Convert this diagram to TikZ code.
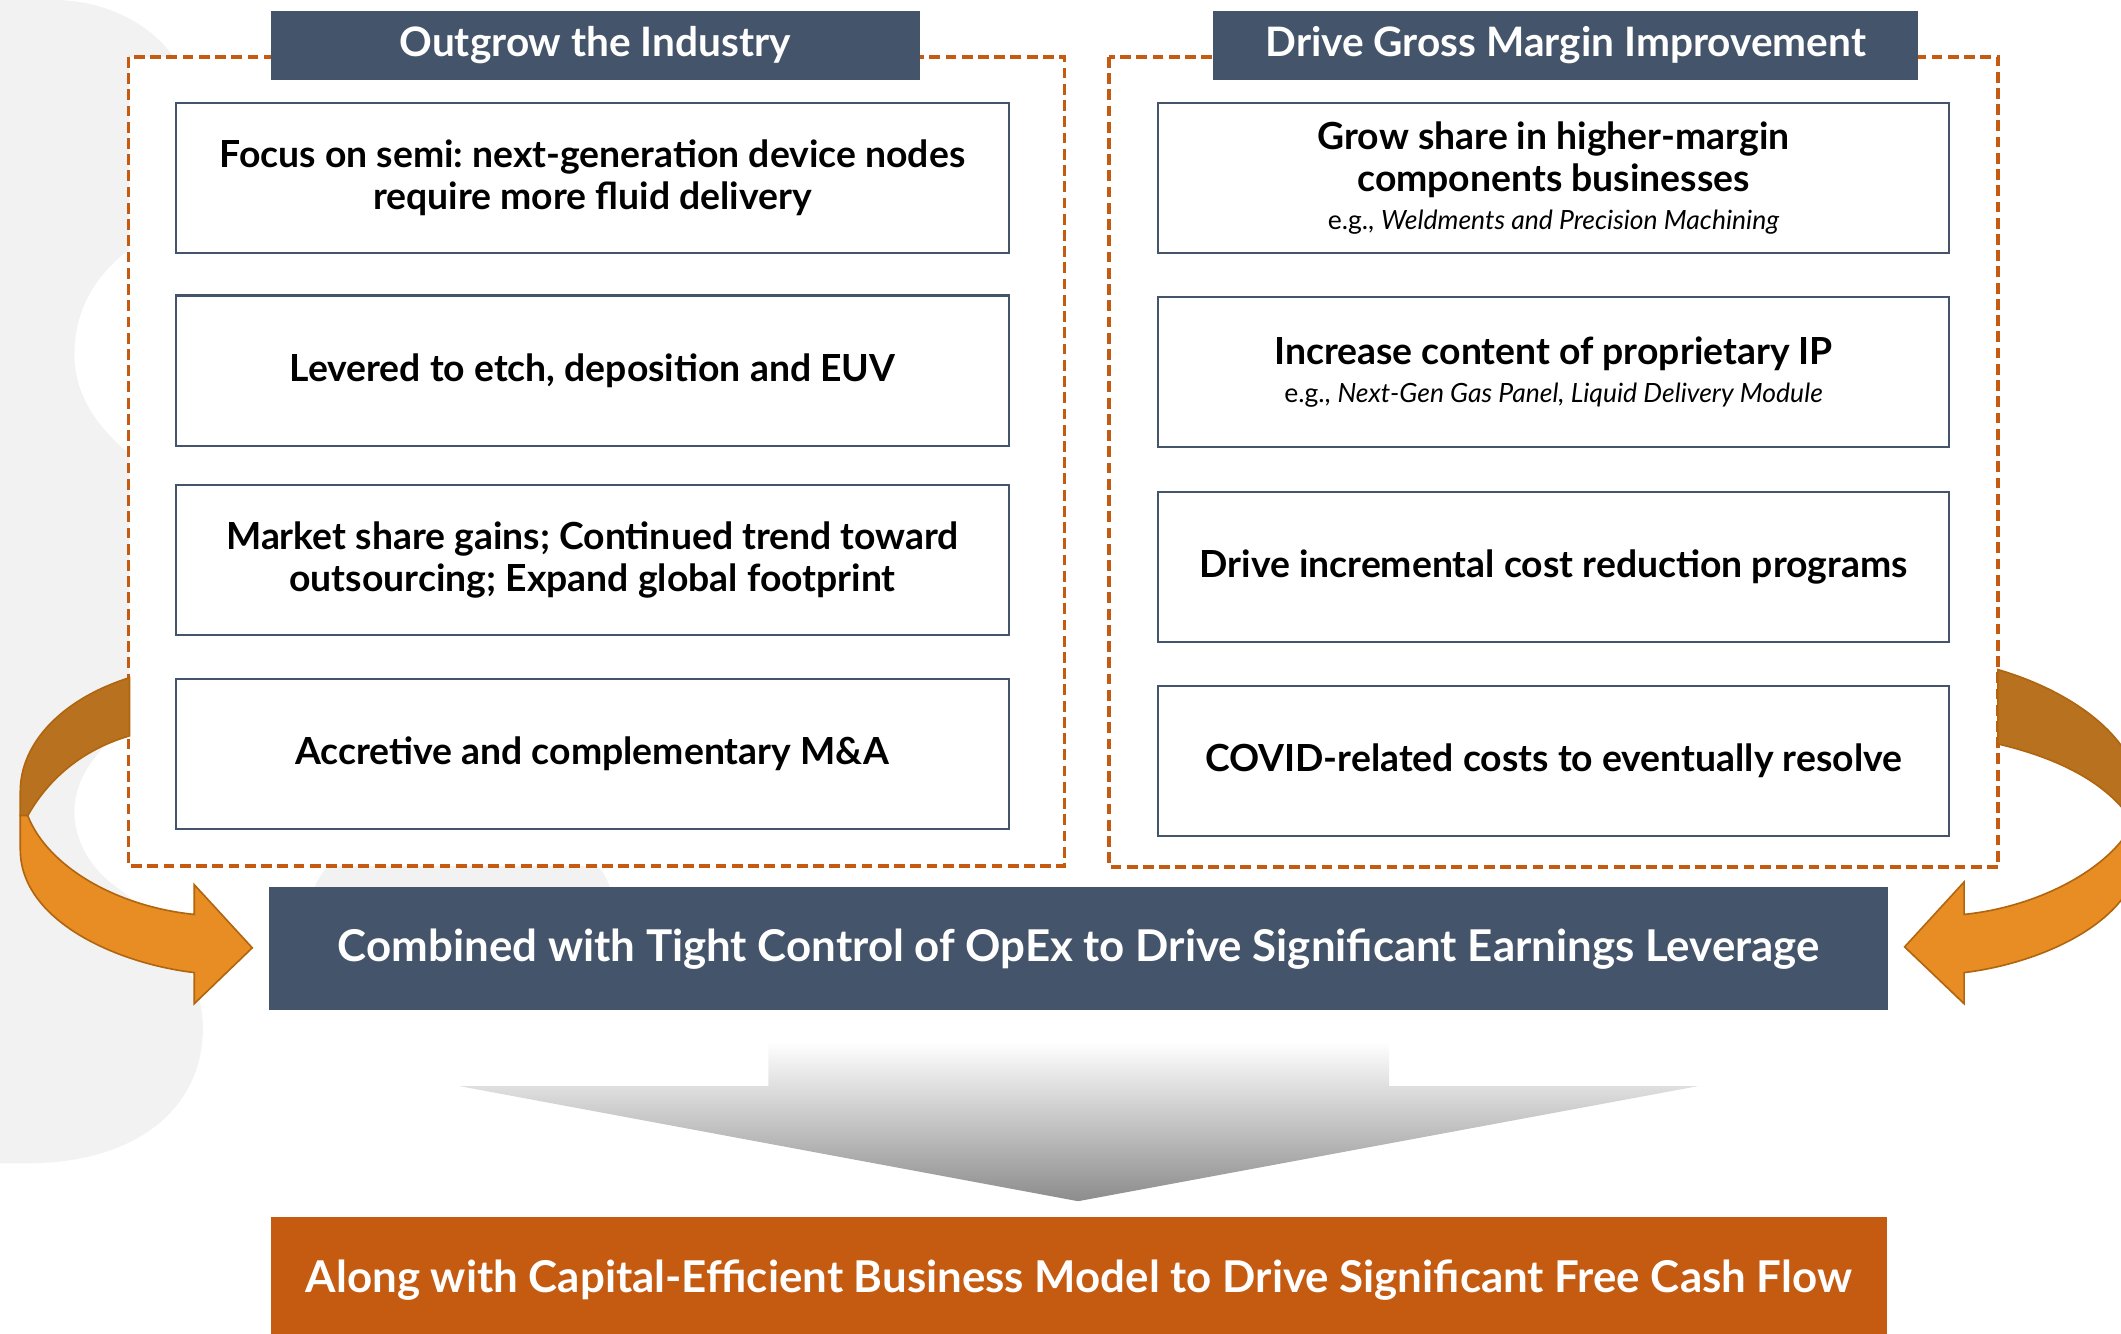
\documentclass[tikz,border=0pt]{standalone}
\usepackage{fontspec}
\setmainfont{Lato}
\frenchspacing

\definecolor{slate}{HTML}{44546A}
\definecolor{rust}{HTML}{C55A11}
\definecolor{amber}{HTML}{E88D24}
\definecolor{amberdark}{HTML}{B8711E}
\definecolor{amberline}{HTML}{B0650F}
\definecolor{logogray}{HTML}{F2F2F2}

\newcommand{\eg}[1]{\\[-1.5pt]{\mdseries\fontsize{9.8}{12}\selectfont e.g., \textit{#1}}}

\begin{document}
\begin{tikzpicture}[x=0.5pt,y=-0.5pt,
    itembox/.style={draw=slate,line width=0.8pt,fill=white,minimum height=55.5pt,align=center,
      font=\bfseries\fontsize{13.8}{15.5}\selectfont},
    headbox/.style={fill=slate,text=white,minimum height=25.5pt,font=\bfseries\fontsize{15}{17}\selectfont},
    dashframe/.style={draw=rust,line width=1.4pt,dash pattern=on 4pt off 2pt,fill=white},
    bigbar/.style={text=white,minimum height=45.5pt,font=\bfseries\fontsize{16.2}{19}\selectfont},
    ribbon/.style={draw=amberline,line width=0.6pt}]
        \useasboundingbox (0,0) rectangle (1568,986);
        % light logo in the back
        \fill[logogray] (0,0) -- (40,0) .. controls (80,0) and (115,20) .. (130,45) -- (130,180) -- (95,185)
          .. controls (62,210) and (55,240) .. (55,262) .. controls (55,285) and (65,310) .. (95,335)
          -- (130,340) -- (130,530) -- (95,535) .. controls (65,560) and (55,580) .. (55,600)
          .. controls (55,620) and (65,640) .. (85,655) .. controls (120,680) and (150,720) .. (150,760)
          .. controls (150,820) and (100,860) .. (20,860) -- (0,860) -- cycle;
        \fill[logogray] (231,660) .. controls (238,640) and (250,630) .. (275,628) -- (410,628)
          .. controls (435,630) and (447,640) .. (452,660) -- cycle;
        % the two dashed frames
        \draw[dashframe] (95,42) rectangle (787,640);
        \draw[dashframe] (820,42) rectangle (1477,641);
        \node[headbox,minimum width=240pt] (growhead) at (440,33.5) {Outgrow the Industry};
        \node[headbox,minimum width=260.5pt] (marginhead) at (1157.5,33.5) {Drive Gross Margin Improvement};
        % left column
        \foreach \i/\yc/\txt in {1/131.5/{Focus on semi: next-generation device nodes\\require more fluid delivery},
            2/274/{Levered to etch, deposition and EUV},
            3/414/{Market share gains; Continued trend toward\\outsourcing; Expand global footprint},
            4/557.5/{Accretive and complementary M\&A}}
          \node[itembox,minimum width=308pt] (grow\i) at (438,\yc) {\txt};
        % right column
        \foreach \i/\yc/\txt in {1/131.5/{Grow share in higher-margin\\components businesses\eg{Weldments and Precision Machining}},
            2/275/{Increase content of proprietary IP\eg{Next-Gen Gas Panel, Liquid Delivery Module}},
            3/419/{Drive incremental cost reduction programs},
            4/562.5/{COVID-related costs to eventually resolve}}
          \node[itembox,minimum width=292.5pt] (margin\i) at (1148.5,\yc) {\txt};
        % bars
        \node[bigbar,fill=slate,minimum width=598.5pt] (opex) at (797.5,701.5)
          {Combined with Tight Control of OpEx to Drive Significant Earnings Leverage};
        \node[bigbar,fill=rust,minimum width=597.5pt,minimum height=46pt] (fcf) at (797.5,946)
          {Along with Capital-Efficient Business Model to Drive Significant Free Cash Flow};
        % grey arrow down
        \shade[top color=white,bottom color=black!45] (568,770) -- (1027,770) -- (1027,803) -- (1255,803)
          -- (797,888) -- (340,803) -- (568,803) -- cycle;
        % curved arrows
        \filldraw[ribbon,fill=amberdark] (95.7,501) .. controls (45,517) and (15,550) .. (15,585) -- (15,603)
          -- (20.5,603) .. controls (38,572) and (65,553) .. (95.7,544) -- cycle;
        \filldraw[ribbon,fill=amber] (15,603) -- (15,628) .. controls (15,680) and (85,712) .. (143.6,719)
          -- (143.6,742) -- (186.5,700.7) -- (143.6,654) -- (143.6,676)
          .. controls (85,670) and (35,640) .. (20.5,603) -- cycle;
        \filldraw[ribbon,fill=amberdark] (1477,495) .. controls (1535,512) and (1582,548) .. (1582,590) -- (1582,608)
          -- (1577,608) .. controls (1558,578) and (1520,560) .. (1477,550) -- cycle;
        \filldraw[ribbon,fill=amber] (1582,608) -- (1582,628) .. controls (1582,680) and (1510,712) .. (1452,719)
          -- (1452,742) -- (1408,700) -- (1452,652) -- (1452,676)
          .. controls (1510,670) and (1562,640) .. (1577,608) -- cycle;
\end{tikzpicture}
\end{document}
